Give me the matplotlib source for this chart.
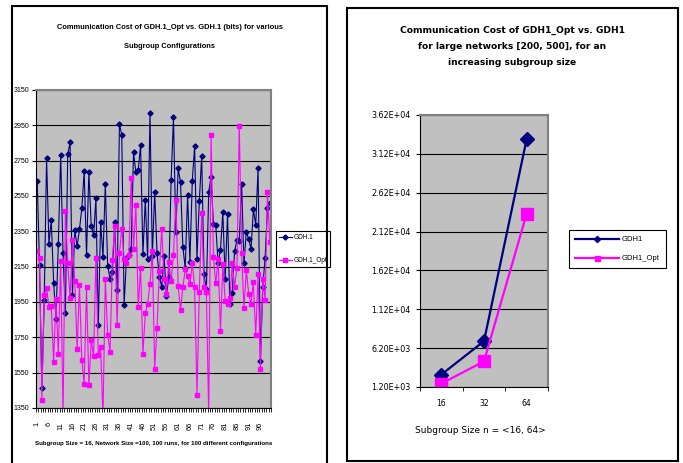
import matplotlib
matplotlib.use("Agg")
from matplotlib import pyplot as plt
from matplotlib.patches import Rectangle
from matplotlib.ticker import FormatStrFormatter
import numpy as np

# Cost (bits) of each of the 100 configurations, subgroup size 16, network size 100
gdh1_cost = [2636, 2159, 1463, 1960, 2763, 2281, 2413, 2058, 1856, 2281,
             2782, 2225, 1885, 2786, 2853, 1992, 2357, 2266, 2362, 2480,
             2691, 2215, 2687, 2381, 2328, 2536, 1818, 2404, 2206, 2616,
             2153, 2083, 2120, 2400, 2017, 2956, 2895, 1932, 2200, 2215,
             2249, 2797, 2684, 2697, 2838, 2219, 2527, 2196, 3018, 2211,
             2574, 2225, 2092, 2036, 2211, 1985, 2092, 2640, 2995, 2347,
             2706, 2627, 2259, 2143, 2555, 2177, 2634, 2833, 2196, 2521,
             2778, 2106, 2021, 2574, 2659, 2391, 2385, 2168, 2247, 2457,
             2079, 2447, 1936, 2002, 2238, 2300, 2294, 2617, 2168, 2347,
             2306, 2249, 2474, 2385, 2710, 1615, 2036, 2200, 2483, 2508]
gdh1_opt_cost = [2238, 2200, 1394, 1988, 2032, 1922, 1926, 1611, 1966, 1658,
                 2181, 1300, 2464, 2168, 1973, 2300, 2070, 1686, 2045, 1620,
                 1488, 2037, 1478, 1733, 1645, 2200, 1652, 1696, 1300, 2079,
                 1766, 1667, 2187, 2381, 1822, 2225, 2366, 2196, 2172, 2215,
                 2653, 2249, 2498, 1922, 2144, 1658, 1885, 1941, 2050, 2238,
                 1573, 1805, 2124, 2366, 2079, 1998, 2177, 2068, 2215, 2527,
                 2041, 1903, 2036, 2134, 2096, 2050, 2168, 2036, 1426, 2006,
                 2455, 2036, 2006, 1300, 2895, 2206, 2055, 2192, 1784, 2164,
                 1958, 1936, 1970, 2168, 2036, 2144, 2948, 2225, 1917, 2130,
                 1998, 1936, 2064, 1762, 2106, 1569, 2079, 1960, 2570, 2291]
config_labels = list(range(1, 101, 5))

# Large networks [200, 500], increasing subgroup size
subgroup_sizes = ["16", "32", "64"]
gdh1_large = [2800, 7100, 33100]
gdh1_opt_large = [1640, 4500, 23500]

W, H = 683, 463
NAVY = "#000080"
MAGENTA = "#FF00FF"
PLOT_BG = "#C0C0C0"
ARIAL = ["Liberation Sans", "DejaVu Sans"]
WIDE = ["DejaVu Sans"]

plt.rcParams["font.family"] = ARIAL


def box(left, top, right, bottom):
    # pixel box -> figure fraction [x, y, w, h]
    return [left / W, 1 - bottom / H, (right - left) / W, (bottom - top) / H]


def excel_frame(ax):
    ax.set_facecolor(PLOT_BG)
    ax.spines["top"].set_color("#808080")
    ax.spines["right"].set_color("#808080")
    ax.spines["top"].set_linewidth(1.5)
    ax.spines["right"].set_linewidth(1.5)
    ax.spines["left"].set_color("black")
    ax.spines["bottom"].set_color("black")
    ax.yaxis.grid(True, color="black", lw=0.8)
    ax.set_axisbelow(True)


fig = plt.figure(figsize=(W / 100, H / 100), dpi=100)

# outlines around the two charts
for l, t, r, b in [(12, 6, 327, 480), (347, 8, 678, 461)]:
    x0, y0, w, h = box(l, t, r, b)
    fig.patches.append(Rectangle((x0, y0), w, h, transform=fig.transFigure,
                                 fill=False, ec="black", lw=1.5))

# ---- left chart: 100 configurations ----
ax1 = fig.add_axes(box(36, 90, 271, 408))
excel_frame(ax1)
x = np.arange(len(gdh1_cost))
ax1.plot(x, gdh1_cost, color=NAVY, lw=0.8, marker="D", ms=2.6, label="GDH.1")
ax1.plot(x, gdh1_opt_cost, color=MAGENTA, lw=0.8, marker="s", ms=2.6, label="GDH.1_Opt")
ax1.set_xlim(-0.5, len(x) - 0.5)
ax1.set_ylim(1350, 3150)
ax1.set_yticks(np.arange(1350, 3151, 200))
ax1.set_xticks(np.array(config_labels) - 1)
ax1.set_xticklabels([str(c) for c in config_labels], rotation=90)
ax1.set_xticks(np.arange(-0.5, len(x), 1), minor=True)
ax1.tick_params(axis="x", which="major", length=0, pad=10, labelsize=5.3)
ax1.tick_params(axis="x", which="minor", length=3, direction="out")
ax1.tick_params(axis="y", length=3, pad=2, labelsize=5)
ax1.set_xlabel("Subgroup Size = 16, Network Size =100, 100 runs, for 100 different configurations",
               fontsize=4.4, fontweight="bold")
ax1.xaxis.set_label_coords(0.5, -0.105)

leg1 = ax1.legend(loc="upper left", bbox_to_anchor=(276 / W, 1 - 231 / H),
                  bbox_transform=fig.transFigure, fontsize=4.7, fancybox=False,
                  edgecolor="black", framealpha=1, borderpad=0.45, labelspacing=2.5,
                  handlelength=2.0, handletextpad=0.25, borderaxespad=0)
leg1.get_frame().set_linewidth(0.8)

fig.text(170 / W, 1 - 37 / H,
         "Communication Cost of GDH.1_Opt vs. GDH.1 (bits) for various\nSubgroup Configurations",
         ha="center", va="center", fontsize=5.4, fontweight="bold", linespacing=3.3)

# ---- right chart: large networks ----
ax2 = fig.add_axes(box(420, 115, 548, 387))
excel_frame(ax2)
x2 = np.arange(len(subgroup_sizes))
ax2.plot(x2, gdh1_large, color=NAVY, lw=1.6, marker="D", ms=7, label="GDH1")
ax2.plot(x2, gdh1_opt_large, color=MAGENTA, lw=1.6, marker="s", ms=8, label="GDH1_Opt")
ax2.set_xlim(-0.5, len(x2) - 0.5)
ax2.set_ylim(1200, 36200)
ax2.set_yticks(np.arange(1200, 36201, 5000))
ax2.yaxis.set_major_formatter(FormatStrFormatter("%.2E"))
ax2.set_xticks(x2)
ax2.set_xticklabels(subgroup_sizes)
ax2.set_xticks(np.arange(-0.5, len(x2), 1), minor=True)
ax2.tick_params(axis="x", which="major", length=0, pad=9, labelsize=5.5)
ax2.tick_params(axis="x", which="minor", length=3, direction="out")
ax2.tick_params(axis="y", length=3, pad=4, labelsize=5.8)
for lab in ax2.get_xticklabels() + ax2.get_yticklabels():
    lab.set_family(WIDE)
ax2.set_xlabel("Subgroup Size n = <16, 64>", fontsize=6.5, family=WIDE)
ax2.xaxis.set_label_coords(0.47, -0.142)

leg2 = ax2.legend(loc="upper left", bbox_to_anchor=(569 / W, 1 - 230 / H),
                  bbox_transform=fig.transFigure, fancybox=False, edgecolor="black",
                  framealpha=1, borderpad=0.8, labelspacing=1.5, handlelength=5.8,
                  handletextpad=0.3, borderaxespad=0, markerscale=0.45,
                  prop={"family": "Liberation Sans", "size": 5.5})
leg2.get_frame().set_linewidth(0.8)

fig.text(512 / W, 1 - 46.5 / H,
         "Communication Cost of GDH1_Opt vs. GDH1\nfor large networks [200, 500], for an\nincreasing subgroup size",
         ha="center", va="center", fontsize=6.6, fontweight="bold", family=WIDE,
         linespacing=2.05)

fig.savefig("out.png", dpi=100)
